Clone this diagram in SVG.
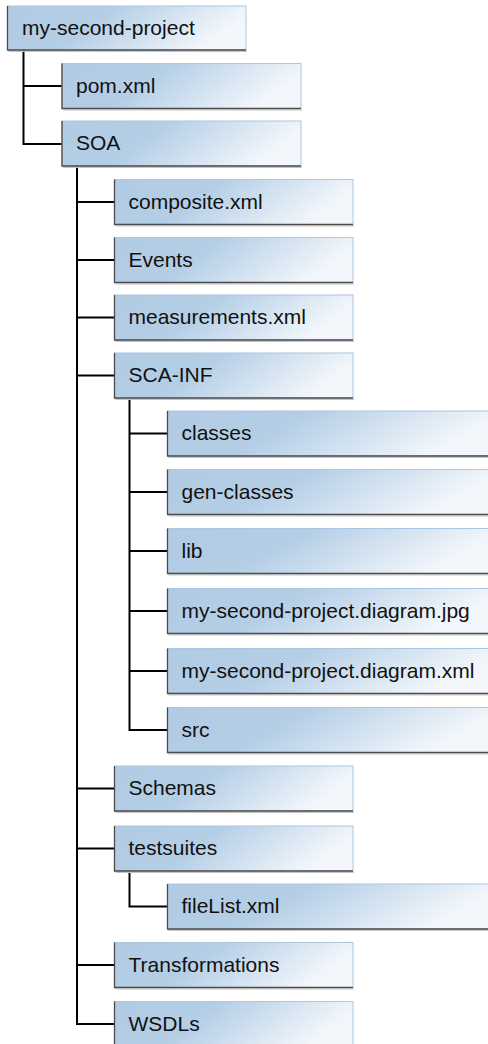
<svg xmlns="http://www.w3.org/2000/svg" width="488" height="1044" viewBox="0 0 488 1044">
<defs>
<linearGradient id="bg" x1="0" y1="0" x2="1" y2="0.25">
<stop offset="0" stop-color="#b1cbe4"/>
<stop offset="0.42" stop-color="#b4cee6"/>
<stop offset="1" stop-color="#f3f7fb"/>
</linearGradient>
<style>
.box{fill:url(#bg);stroke:#a9c6e2;stroke-width:1}
.edge{fill:none;stroke:#4a4a4a;stroke-width:1.3}
.shadow{fill:none;stroke:#c4c4c4;stroke-width:1}
.lbl{font-family:"Liberation Sans",Arial,sans-serif;font-size:21px;fill:#111}
.conn{fill:none;stroke:#000;stroke-width:2}
</style>
</defs>
<rect width="488" height="1044" fill="#fff"/>
<g id="connectors" class="conn">
<path d="M23.5,50 V144 H62 M23.5,86 H62"/>
<path d="M77,166 V1024 H114.5 M77,202 H114.5 M77,260 H114.5 M77,317.5 H114.5 M77,375.5 H114.5 M77,788.5 H114.5 M77,848.5 H114.5 M77,965 H114.5"/>
<path d="M129.5,398.5 V730 H167.5 M129.5,433.5 H167.5 M129.5,492 H167.5 M129.5,551 H167.5 M129.5,611 H167.5 M129.5,671 H167.5"/>
<path d="M129.5,871.5 V906.5 H167.5"/>
</g>
<g id="n-root"><rect class="box" x="7.5" y="6" width="238.5" height="44"/><path class="shadow" d="M8.5,51.5 H247"/><path class="edge" d="M7.5,6 V50 H246"/><text class="lbl" x="22" y="35">my-second-project</text></g>
<g id="n-pom"><rect class="box" x="62" y="63.5" width="239" height="45"/><path class="shadow" d="M63,110 H302"/><path class="edge" d="M62,63.5 V108.5 H301"/><text class="lbl" x="76" y="92.5">pom.xml</text></g>
<g id="n-soa"><rect class="box" x="62" y="121" width="239" height="45"/><path class="shadow" d="M63,167.5 H302"/><path class="edge" d="M62,121 V166 H301"/><text class="lbl" x="76" y="150">SOA</text></g>
<g id="n-composite"><rect class="box" x="114.5" y="179.5" width="238.5" height="45"/><path class="shadow" d="M115.5,226 H354"/><path class="edge" d="M114.5,179.5 V224.5 H353"/><text class="lbl" x="128.5" y="208.5">composite.xml</text></g>
<g id="n-events"><rect class="box" x="114.5" y="237.5" width="238.5" height="45"/><path class="shadow" d="M115.5,284 H354"/><path class="edge" d="M114.5,237.5 V282.5 H353"/><text class="lbl" x="128.5" y="266.5">Events</text></g>
<g id="n-measurements"><rect class="box" x="114.5" y="295" width="238.5" height="45"/><path class="shadow" d="M115.5,341.5 H354"/><path class="edge" d="M114.5,295 V340 H353"/><text class="lbl" x="128.5" y="324">measurements.xml</text></g>
<g id="n-scainf"><rect class="box" x="114.5" y="353" width="238.5" height="45"/><path class="shadow" d="M115.5,399.5 H354"/><path class="edge" d="M114.5,353 V398 H353"/><text class="lbl" x="128.5" y="382">SCA-INF</text></g>
<g id="n-classes"><rect class="box" x="167.5" y="411" width="322" height="45"/><path class="shadow" d="M168.5,457.5 H490"/><path class="edge" d="M167.5,411 V456 H490"/><text class="lbl" x="181.5" y="440">classes</text></g>
<g id="n-genclasses"><rect class="box" x="167.5" y="469.5" width="322" height="45"/><path class="shadow" d="M168.5,516 H490"/><path class="edge" d="M167.5,469.5 V514.5 H490"/><text class="lbl" x="181.5" y="498.5">gen-classes</text></g>
<g id="n-lib"><rect class="box" x="167.5" y="528.5" width="322" height="45"/><path class="shadow" d="M168.5,575 H490"/><path class="edge" d="M167.5,528.5 V573.5 H490"/><text class="lbl" x="181.5" y="557.5">lib</text></g>
<g id="n-jpg"><rect class="box" x="167.5" y="588.5" width="322" height="45"/><path class="shadow" d="M168.5,635 H490"/><path class="edge" d="M167.5,588.5 V633.5 H490"/><text class="lbl" x="181.5" y="617.5">my-second-project.diagram.jpg</text></g>
<g id="n-xml"><rect class="box" x="167.5" y="648.5" width="322" height="45"/><path class="shadow" d="M168.5,695 H490"/><path class="edge" d="M167.5,648.5 V693.5 H490"/><text class="lbl" x="181.5" y="677.5">my-second-project.diagram.xml</text></g>
<g id="n-src"><rect class="box" x="167.5" y="707.5" width="322" height="45"/><path class="shadow" d="M168.5,754 H490"/><path class="edge" d="M167.5,707.5 V752.5 H490"/><text class="lbl" x="181.5" y="736.5">src</text></g>
<g id="n-schemas"><rect class="box" x="114.5" y="766" width="238.5" height="45"/><path class="shadow" d="M115.5,812.5 H354"/><path class="edge" d="M114.5,766 V811 H353"/><text class="lbl" x="128.5" y="795">Schemas</text></g>
<g id="n-testsuites"><rect class="box" x="114.5" y="826" width="238.5" height="45"/><path class="shadow" d="M115.5,872.5 H354"/><path class="edge" d="M114.5,826 V871 H353"/><text class="lbl" x="128.5" y="855">testsuites</text></g>
<g id="n-filelist"><rect class="box" x="167.5" y="884" width="322" height="45"/><path class="shadow" d="M168.5,930.5 H490"/><path class="edge" d="M167.5,884 V929 H490"/><text class="lbl" x="181.5" y="913">fileList.xml</text></g>
<g id="n-transformations"><rect class="box" x="114.5" y="942.5" width="238.5" height="45"/><path class="shadow" d="M115.5,989 H354"/><path class="edge" d="M114.5,942.5 V987.5 H353"/><text class="lbl" x="128.5" y="971.5">Transformations</text></g>
<g id="n-wsdls"><rect class="box" x="114.5" y="1001.5" width="238.5" height="45"/><path class="edge" d="M114.5,1001.5 V1046.5"/><text class="lbl" x="128.5" y="1030.5">WSDLs</text></g>
</svg>
